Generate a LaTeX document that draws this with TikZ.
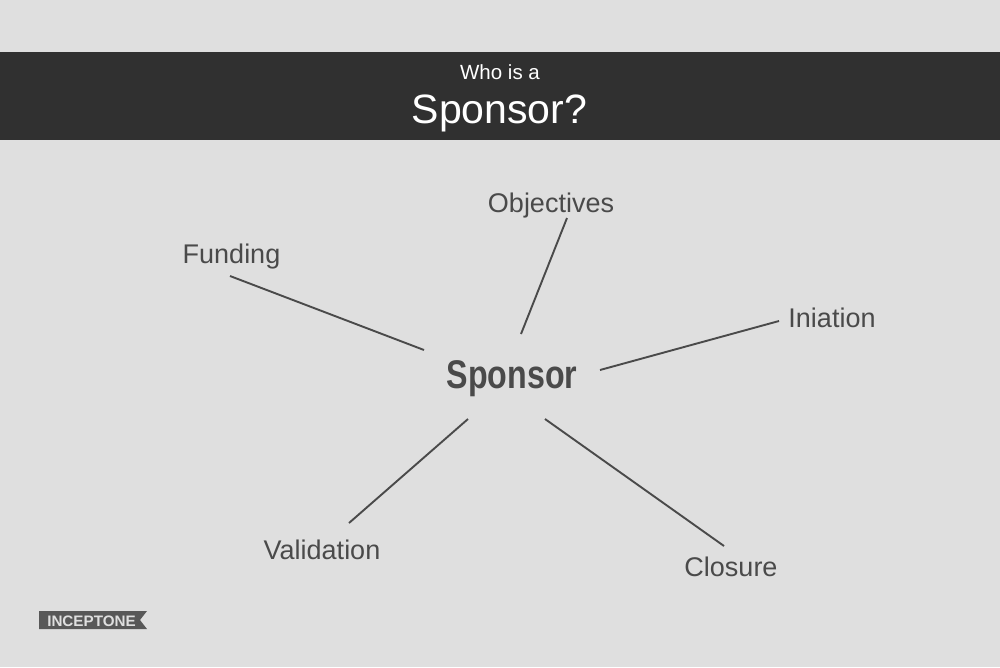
\documentclass[tikz,border=0pt]{standalone}
\usepackage{fontspec}
\setmainfont{Liberation Sans}
\definecolor{bg}{HTML}{DFDFDF}
\definecolor{band}{HTML}{303030}
\definecolor{ink}{HTML}{4A4A4A}
\definecolor{tagc}{HTML}{585858}
\tikzset{
 x=1pt,y=-1pt,
 lab/.style={text=ink,font=\fontsize{27}{30}\selectfont,inner sep=0pt,anchor=base},
 spoke/.style={draw=ink,line width=1.9pt},
}
\begin{document}
\begin{tikzpicture}
\useasboundingbox (0,0) rectangle (1000,667);
\fill[bg] (0,0) rectangle (1000,667);
\fill[band] (0,51.6) rectangle (1000,140.2);
\node[text=white,font=\fontsize{20.5}{22}\selectfont,inner sep=0pt,anchor=base] (sub) at (500,79) {Who is a};
\node[text=white,font=\fontsize{41}{44}\selectfont,inner sep=0pt,anchor=base] (title) at (499.5,123) {Sponsor?};
\node[text=ink,font=\fontsize{40}{44}\selectfont\bfseries,inner sep=0pt,anchor=base,xscale=.805] (c) at (512,388) {Sponsor};
\node[lab] (obj) at (551,212) {Objectives};
\node[lab] (fund) at (231.5,263) {Funding};
\node[lab] (ini) at (832,327) {Iniation};
\node[lab] (val) at (322,559) {Validation};
\node[lab] (clo) at (731,576) {Closure};
\coordinate (c1) at (521,334); \coordinate (o1) at (567,218);
\coordinate (c2) at (424,350); \coordinate (f1) at (230,276);
\coordinate (c3) at (600,370); \coordinate (i1) at (779,321);
\coordinate (c4) at (468,419); \coordinate (v1) at (349,523);
\coordinate (c5) at (545,419); \coordinate (l1) at (724,546);
\draw[spoke] (c1) -- (o1);
\draw[spoke] (c2) -- (f1);
\draw[spoke] (c3) -- (i1);
\draw[spoke] (c4) -- (v1);
\draw[spoke] (c5) -- (l1);
\fill[tagc] (39,611) -- (147,611) -- (140,620) -- (147,629) -- (39,629) -- cycle;
\node[text=bg,font=\fontsize{15.2}{16}\selectfont\bfseries,inner sep=0pt,anchor=base] (tag) at (91.5,626) {INCEPTONE};
\end{tikzpicture}
\end{document}
